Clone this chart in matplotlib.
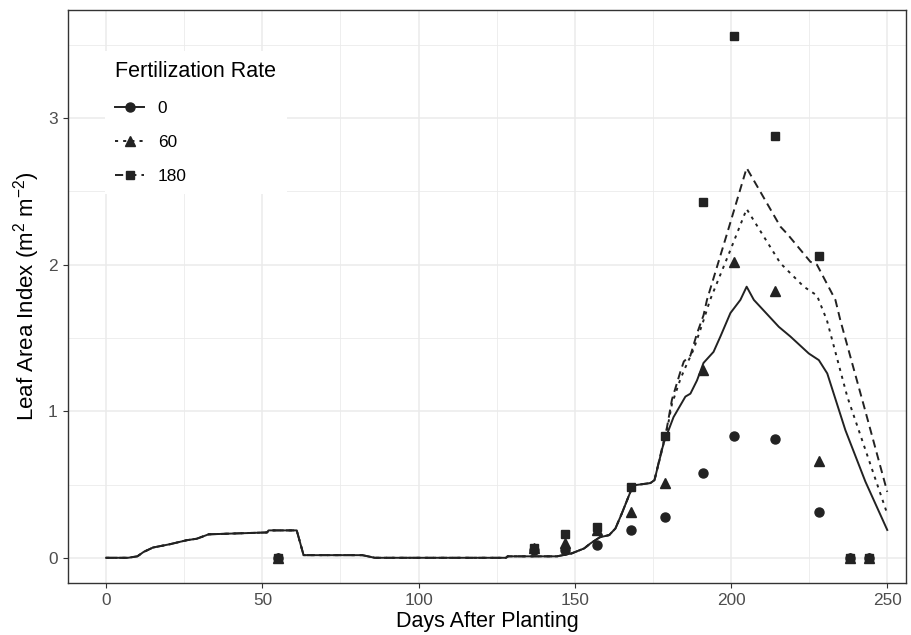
import numpy as np
import matplotlib.pyplot as plt
from matplotlib.lines import Line2D

plt.rcParams['font.family'] = ['Liberation Sans', 'DejaVu Sans']
plt.rcParams['mathtext.fontset'] = 'custom'
plt.rcParams['mathtext.rm'] = 'Liberation Sans'
plt.rcParams['mathtext.it'] = 'Liberation Sans:italic'

# observed LAI
obs_days = [55, 137, 147, 157, 168, 179, 191, 201, 214, 228, 238, 244]
obs_0 = [0, 0.05, 0.05, 0.09, 0.19, 0.28, 0.58, 0.83, 0.81, 0.31, 0, 0]
obs_60 = [0, 0.07, 0.10, 0.19, 0.31, 0.51, 1.28, 2.02, 1.82, 0.66, 0, 0]
obs_180 = [0, 0.07, 0.16, 0.21, 0.48, 0.83, 2.43, 3.56, 2.88, 2.06, 0, 0]

# simulated LAI, common early part (identical for all rates)
early_days = [0, 7, 10, 12, 15, 20.5, 25.8, 29, 32.8, 39.7, 51.5, 52, 61, 63.2,
              82, 86, 128, 128.5, 144.3, 149, 153, 155, 158, 161, 163, 165,
              167.8, 169.4, 174.2, 175.5]
early_lai = [0, 0, 0.01, 0.04, 0.07, 0.093, 0.12, 0.13, 0.16, 0.165, 0.173, 0.187,
             0.187, 0.018, 0.018, 0, 0, 0.01, 0.01, 0.03, 0.064, 0.098, 0.14,
             0.155, 0.2, 0.30, 0.45, 0.496, 0.51, 0.53]

late_days_0 = [178.4, 181.6, 185.4, 187, 189.1, 191.2, 194.4, 196.6, 199.8, 203,
               205, 207.3, 215.3, 219, 224.9, 228.1, 230.8, 236.6, 243, 250]
late_lai_0 = [0.78, 0.96, 1.10, 1.12, 1.21, 1.33, 1.405, 1.51, 1.67, 1.76,
              1.85, 1.76, 1.576, 1.51, 1.394, 1.349, 1.258, 0.871, 0.52, 0.19]

late_days_60 = [179.5, 181.1, 183.8, 185.4, 188, 191.2, 193.3, 199.8, 205,
                215.8, 223.3, 227.5, 230.7, 237.2, 250]
late_lai_60 = [0.87, 1.05, 1.22, 1.30, 1.42, 1.62, 1.76, 2.10, 2.38,
               2.01, 1.85, 1.79, 1.62, 1.10, 0.30]

late_days_180 = [179.5, 181.1, 183.8, 184.9, 187, 189.1, 191.2, 192.3, 198.7, 205,
                 215.8, 218, 225.4, 227.5, 233.4, 235, 243, 250]
late_lai_180 = [0.89, 1.08, 1.27, 1.34, 1.38, 1.53, 1.655, 1.76, 2.21, 2.66,
                2.26, 2.21, 2.02, 2.0, 1.76, 1.62, 1.0, 0.45]

rates = ['0', '60', '180']
markers = ['o', '^', 's']
dashes = [None, (1.6, 2.6), (4.2, 2.6)]
obs_all = [obs_0, obs_60, obs_180]
sim_days = [early_days + late_days_0, early_days + late_days_60, early_days + late_days_180]
sim_lai = [early_lai + late_lai_0, early_lai + late_lai_60, early_lai + late_lai_180]

col = '#222222'
fig = plt.figure(figsize=(9.12, 6.35), dpi=100)
ax = fig.add_axes([68 / 912, 1 - 583 / 635, (906 - 68) / 912, (583 - 10) / 635])

handles = []
for i in range(3):
    ln, = ax.plot(sim_days[i], sim_lai[i], color=col, lw=1.4, zorder=3)
    if dashes[i] is not None:
        ln.set_dashes(dashes[i])
    ax.plot(obs_days, obs_all[i], linestyle='none', marker=markers[i],
            color=col, ms=6.5 if markers[i] != 's' else 6, zorder=4)
    h = Line2D([], [], color=col, lw=1.4, marker=markers[i],
               ms=6.5 if markers[i] != 's' else 6)
    if dashes[i] is not None:
        h.set_dashes(dashes[i])
    handles.append(h)

ax.set_xlim(-12.2, 256)
ax.set_ylim(-0.172, 3.738)
ax.set_xticks([0, 50, 100, 150, 200, 250])
ax.set_yticks([0, 1, 2, 3])
ax.set_xticks([25, 75, 125, 175, 225], minor=True)
ax.set_yticks([0.5, 1.5, 2.5, 3.5], minor=True)
ax.grid(True, which='major', color='#EBEBEB', lw=1.1, zorder=0)
ax.grid(True, which='minor', color='#EBEBEB', lw=0.6, zorder=0)
ax.set_axisbelow(True)
ax.tick_params(which='major', length=3.5, width=0.8, color='#333333',
               labelsize=12.4, labelcolor='#4D4D4D', pad=4)
ax.tick_params(which='minor', length=0)
for s in ax.spines.values():
    s.set_color('#333333')
    s.set_linewidth(1.0)

ax.set_xlabel('Days After Planting', fontsize=15.5, color='black', labelpad=2)
ax.set_ylabel('Leaf Area Index (m$^2$ m$^{-2}$)', fontsize=16, color='black', labelpad=4)

leg = ax.legend(handles, rates, title='Fertilization Rate', loc='upper left',
                bbox_to_anchor=(0.034, 0.944), frameon=True, fontsize=12.4,
                title_fontsize=15.5, handlelength=1.65, labelspacing=1.1,
                borderpad=0.6, handletextpad=0.8, alignment='left')
leg.get_frame().set_edgecolor('none')
leg.get_frame().set_facecolor('white')
leg.get_frame().set_alpha(1)
leg.get_frame().set_boxstyle('square', pad=0)

fig.savefig('out.png', dpi=100)
